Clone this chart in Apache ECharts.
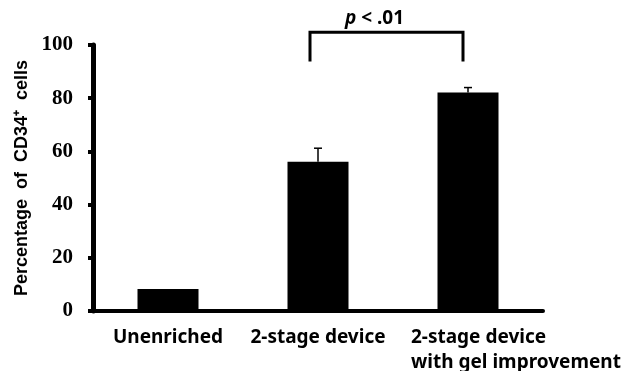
<!DOCTYPE html>
<html>
<head>
<meta charset="utf-8">
<script src="https://cdn.jsdelivr.net/npm/echarts@6/dist/echarts.min.js"></script>
<style>
  html, body { margin: 0; padding: 0; background: #fff; }
  #chart { width: 633px; height: 371px; }
</style>
</head>
<body>
<div id="chart"></div>
<script>
// data
var categories = ['Unenriched', '2-stage device', '2-stage device\nwith gel improvement'];
var means = [8.3, 56.1, 82.1];
var errors = [0, 5.1, 1.9];
var yMin = 0, yMax = 100, yStep = 20;

// significance bracket between bar 2 and bar 3
var bracketPair = [1, 2];
var bracketTop = 104.8;
var bracketLegEnd = 93.8;
var bracketLabel = 'p < .01';

var myChart = echarts.init(document.getElementById('chart'));

var errData = means.map(function (m, i) { return [i, m, m + errors[i]]; });

myChart.setOption({
    animation: false,
    backgroundColor: '#fff',
    grid: { left: 93, right: 90, top: 45, bottom: 60 },
    xAxis: {
        type: 'category',
        data: categories,
        axisLine: { lineStyle: { color: '#000', width: 4 } },
        axisTick: { length: 6, lineStyle: { color: '#000', width: 3.5 } },
        axisLabel: { show: false }
    },
    yAxis: {
        type: 'value',
        min: yMin,
        max: yMax,
        interval: yStep,
        name: 'Percentage  of  CD34\u207A  cells',
        nameLocation: 'middle',
        nameGap: 54,
        nameTextStyle: { fontFamily: 'Liberation Sans', fontWeight: 'bold', fontSize: 18, color: '#000' },
        axisLine: { show: true, lineStyle: { color: '#000', width: 5 } },
        axisTick: { show: true, length: 5, lineStyle: { color: '#000', width: 4 } },
        axisLabel: { margin: 20, fontFamily: 'Liberation Serif', fontWeight: 'bold', fontSize: 21, color: '#000' },
        splitLine: { show: false }
    },
    series: [
        {
            type: 'bar',
            data: means,
            barWidth: 61,
            itemStyle: { color: '#000' }
        },
        {
            type: 'custom',
            data: errData,
            encode: { x: 0, y: [1, 2] },
            z: 3,
            renderItem: function (params, api) {
                var i = api.value(0);
                if (api.value(2) <= api.value(1)) return null;
                var lo = api.coord([i, api.value(1)]);
                var hi = api.coord([i, api.value(2)]);
                var st = { stroke: '#000', lineWidth: 1.5 };
                return {
                    type: 'group',
                    children: [
                        { type: 'line', shape: { x1: lo[0], y1: lo[1], x2: hi[0], y2: hi[1] }, style: st },
                        { type: 'line', shape: { x1: hi[0] - 4, y1: hi[1], x2: hi[0] + 4, y2: hi[1] }, style: st }
                    ]
                };
            }
        }
    ]
});

// labels, bracket and p-value, placed with the chart's own scales
var gfx = [];
var labelFont = 'bold 19px "Noto Sans"';
categories.forEach(function (c, i) {
    var x = myChart.convertToPixel({ xAxisIndex: 0 }, i);
    var multi = c.indexOf('\n') >= 0;
    gfx.push({
        type: 'text',
        x: multi ? x - 57 : x,
        y: 325,
        style: { text: c, font: labelFont, fill: '#000', align: multi ? 'left' : 'center', verticalAlign: 'top', lineHeight: 25 }
    });
});

var pL = myChart.convertToPixel({ gridIndex: 0 }, [bracketPair[0], bracketTop]);
var pR = myChart.convertToPixel({ gridIndex: 0 }, [bracketPair[1], bracketTop]);
var yEnd = myChart.convertToPixel({ yAxisIndex: 0 }, bracketLegEnd);
var xl = pL[0] - 8, xr = pR[0] - 5;
gfx.push({
    type: 'polyline',
    shape: { points: [[xl, yEnd], [xl, pL[1]], [xr, pL[1]], [xr, yEnd]] },
    style: { stroke: '#000', lineWidth: 3, fill: null }
});
var parts = bracketLabel.split(' ');
gfx.push({
    type: 'text',
    x: (xl + xr) / 2 - 12,
    y: 19,
    style: {
        text: '{i|' + parts[0] + '}{n| ' + parts.slice(1).join(' ') + '}',
        align: 'center',
        verticalAlign: 'middle',
        rich: {
            i: { font: 'italic bold 19px "Noto Sans"', fill: '#000' },
            n: { font: 'bold 19px "Noto Sans"', fill: '#000' }
        }
    }
});

myChart.setOption({ graphic: gfx });
</script>
</body>
</html>
